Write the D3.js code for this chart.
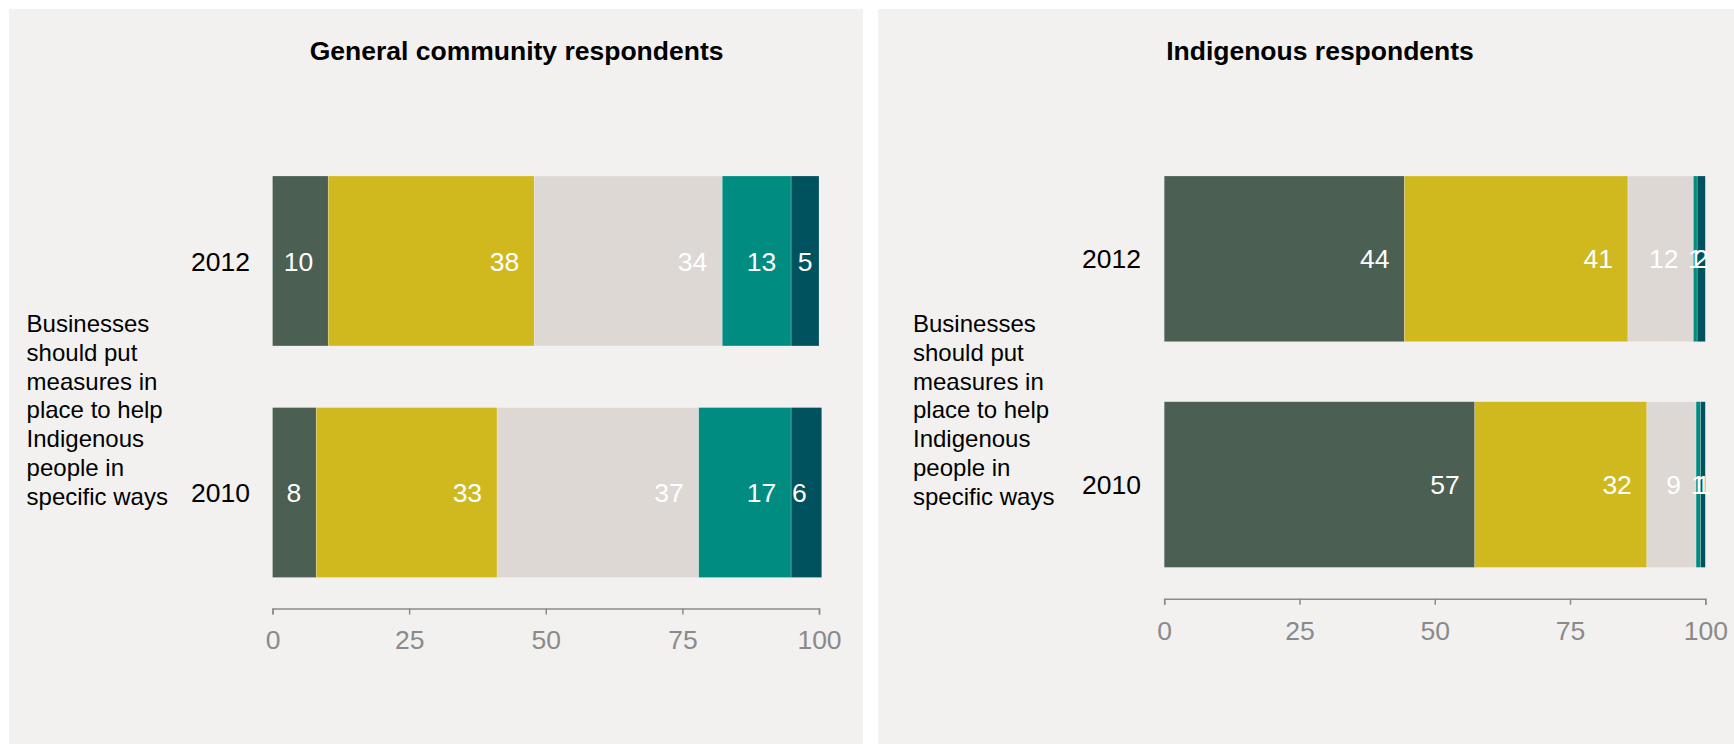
<!DOCTYPE html>
<html>
<head>
<meta charset="utf-8">
<script src="https://cdn.jsdelivr.net/npm/d3@7"></script>
<style>
  html, body { margin: 0; padding: 0; background: #ffffff; }
  svg { display: block; font-family: "Liberation Sans", Arial, Helvetica, sans-serif; }
</style>
</head>
<body>
<svg id="chart" width="1734" height="744"></svg>
<script>
// ---- data ----
const categories = ["2012", "2010"];
const seriesKeys = ["Strongly agree", "Agree", "Neither", "Disagree", "Strongly disagree"];
const seriesColors = ["#4b5f53", "#d0b91f", "#ddd8d4", "#008c81", "#00525e"];
const general2012 = [10.2, 37.7, 34.4, 12.6, 5.1];
const general2010 = [8.0, 33.1, 36.9, 16.9, 5.6];
const indigenous2012 = [44.4, 41.3, 12.1, 0.7, 1.5];
const indigenous2010 = [57.4, 31.8, 9.1, 0.85, 0.85];
const tickValues = [0, 25, 50, 75, 100];
const panelTitles = ["General community respondents", "Indigenous respondents"];
const rowLabelLines = ["Businesses", "should put", "measures in", "place to help", "Indigenous", "people in", "specific ways"];

// ---- layout ----
const svg = d3.select("#chart");
const FONT = 26.5;

const panels = [
  { title: panelTitles[0], rows: { "2012": general2012, "2010": general2010 },
    bg: [9, 9, 854, 735], x: [272.5, 819], y: [176, 577.5], axisY: 608.6,
    titleX: 516.6, titleY: 59.5, labelX: 26.6, labelY: 332, yearX: 250 },
  { title: panelTitles[1], rows: { "2012": indigenous2012, "2010": indigenous2010 },
    bg: [878, 9, 856, 735], x: [1164.2, 1705.3], y: [176, 567.4], axisY: 598.7,
    titleX: 1320, titleY: 59.5, labelX: 913, labelY: 332, yearX: 1141 }
];

// measuring helper
const measure = svg.append("text").attr("font-size", FONT).attr("visibility", "hidden");
function textWidth(s) { measure.text(s); return measure.node().getComputedTextLength(); }

panels.forEach(p => {
  svg.append("rect")
    .attr("x", p.bg[0]).attr("y", p.bg[1]).attr("width", p.bg[2]).attr("height", p.bg[3])
    .attr("fill", "#f2f1ef");

  const x = d3.scaleLinear().domain([0, 100]).range(p.x);
  const y = d3.scaleBand().domain(categories).range(p.y).paddingInner(0.266).paddingOuter(0);

  const table = categories.map(c => {
    const o = { cat: c };
    seriesKeys.forEach((k, i) => o[k] = p.rows[c][i]);
    return o;
  });
  const stacked = d3.stack().keys(seriesKeys)(table);

  const g = svg.append("g");
  const layers = g.selectAll("g.layer").data(stacked).join("g")
    .attr("class", "layer")
    .attr("fill", (d, i) => seriesColors[i]);

  layers.selectAll("rect").data(d => d).join("rect")
    .attr("x", d => x(d[0]))
    .attr("y", d => y(d.data.cat))
    .attr("width", d => x(d[1]) - x(d[0]))
    .attr("height", y.bandwidth())
    .attr("stroke", "rgba(255,255,255,0.35)")
    .attr("stroke-width", 0.6);

  // value labels
  const pad = 15;
  layers.selectAll("text").data(d => d.map(v => ({ v, key: d.key }))).join("text")
    .each(function(o) {
      const d = o.v;
      const val = d[1] - d[0];
      const label = d3.format(".0f")(val);
      const w = textWidth(label);
      const x0 = x(d[0]), x1 = x(d[1]);
      const sel = d3.select(this).text(label)
        .attr("y", y(d.data.cat) + y.bandwidth() / 2)
        .attr("dy", "0.36em")
        .attr("fill", "#ffffff")
        .attr("font-size", FONT);
      if (w + pad > x1 - x0) {
        sel.attr("x", (x0 + x1) / 2).attr("text-anchor", "middle");
      } else {
        sel.attr("x", x1 - pad).attr("text-anchor", "end");
      }
    });

  // year labels
  g.selectAll("text.year").data(categories).join("text")
    .attr("class", "year")
    .attr("x", p.yearX)
    .attr("y", d => y(d) + y.bandwidth() / 2)
    .attr("dy", "0.36em")
    .attr("text-anchor", "end")
    .attr("font-size", FONT)
    .attr("fill", "#000")
    .text(d => d);

  // row label (wrapped)
  const rl = svg.append("text")
    .attr("x", p.labelX).attr("y", p.labelY)
    .attr("font-size", 24).attr("fill", "#000");
  rl.selectAll("tspan").data(rowLabelLines).join("tspan")
    .attr("x", p.labelX)
    .attr("dy", (d, i) => i === 0 ? 0 : 28.8)
    .text(d => d);

  // title
  svg.append("text")
    .attr("x", p.titleX).attr("y", p.titleY)
    .attr("text-anchor", "middle")
    .attr("font-size", FONT)
    .attr("font-weight", "bold")
    .attr("fill", "#000")
    .text(p.title);

  // axis
  const ax = svg.append("g")
    .attr("transform", `translate(0,${p.axisY})`)
    .call(d3.axisBottom(x).tickValues(tickValues).tickSize(6).tickSizeOuter(6).tickPadding(16).tickFormat(d3.format("d")));
  ax.select(".domain").attr("stroke", "#8c8c8c").attr("stroke-width", 1.5);
  ax.selectAll(".tick line").attr("stroke", "#8c8c8c").attr("stroke-width", 1.5);
  ax.selectAll(".tick text")
    .attr("fill", "#8a8a8a")
    .attr("font-size", FONT)
    .attr("font-family", "'Liberation Sans', Arial, sans-serif");
});
measure.remove();
</script>
</body>
</html>
